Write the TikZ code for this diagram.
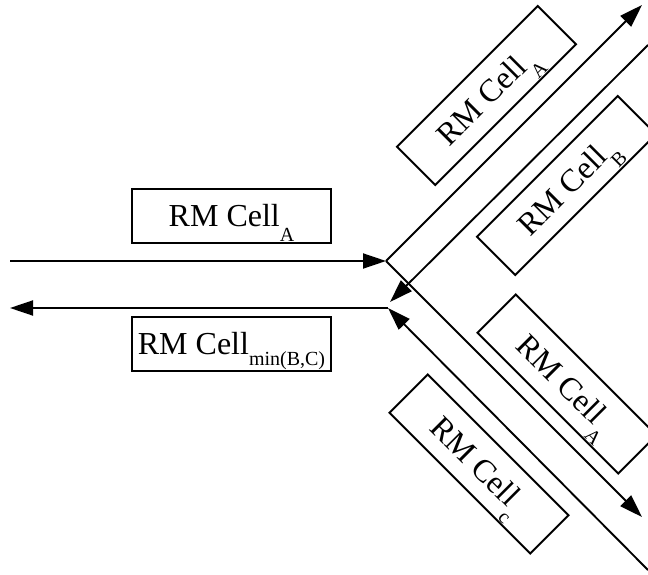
\documentclass[tikz,border=0pt]{standalone}
\usepackage{fontspec}
\setmainfont{Liberation Serif}
\usetikzlibrary{arrows.meta}
\newcommand{\cellsub}[2][0.45em]{\raisebox{-#1}[0pt][0pt]{\fontsize{20}{22}\selectfont #2}}

\begin{document}
\begin{tikzpicture}[x=1pt,y=-1pt,
  cellbox/.style={draw,line width=1.9pt,minimum width=199pt,minimum height=54pt,
    inner sep=0pt,font=\fontsize{32}{36}\selectfont},
  flow/.style={line width=1.9pt,-{Triangle[length=23pt,width=15pt]}}]
\useasboundingbox (0,0) rectangle (648,575);
\clip (0,0) rectangle (648,575);

% junctions and free ends
\coordinate (jin) at (386,261);
\coordinate (jout) at (388,308);
\coordinate (jret) at (390,302);
\coordinate (src) at (10,261);
\coordinate (dst) at (10,308);
\coordinate (upend) at (642,5);
\coordinate (upret) at (648,45);
\coordinate (downend) at (642,517);
\coordinate (downret) at (648,570);

\draw[flow] (src) -- (jin);
\draw[flow] (jout) -- (dst);
\draw[flow] (jin) -- (upend);
\draw[flow] (upret) -- (jret);
\draw[flow] (jin) -- (downend);
\draw[flow] (downret) -- (jout);

% cells
\node[cellbox] (inA) at (231.5,216) {RM Cell\cellsub{A}};
\node[cellbox] (outBC) at (231.5,344) {RM Cell\cellsub[0.33em]{min(B,C)}};
\node[cellbox,rotate=45] (upA) at (486.5,95.5) {RM Cell\cellsub{A}};
\node[cellbox,rotate=45] (upB) at (566.5,185.5) {RM Cell\cellsub{B}};
\node[cellbox,rotate=-45] (downA) at (567,384) {RM Cell\cellsub{A}};
\node[cellbox,rotate=-45] (downC) at (479,464) {RM Cell\cellsub{c}};
\end{tikzpicture}
\end{document}
